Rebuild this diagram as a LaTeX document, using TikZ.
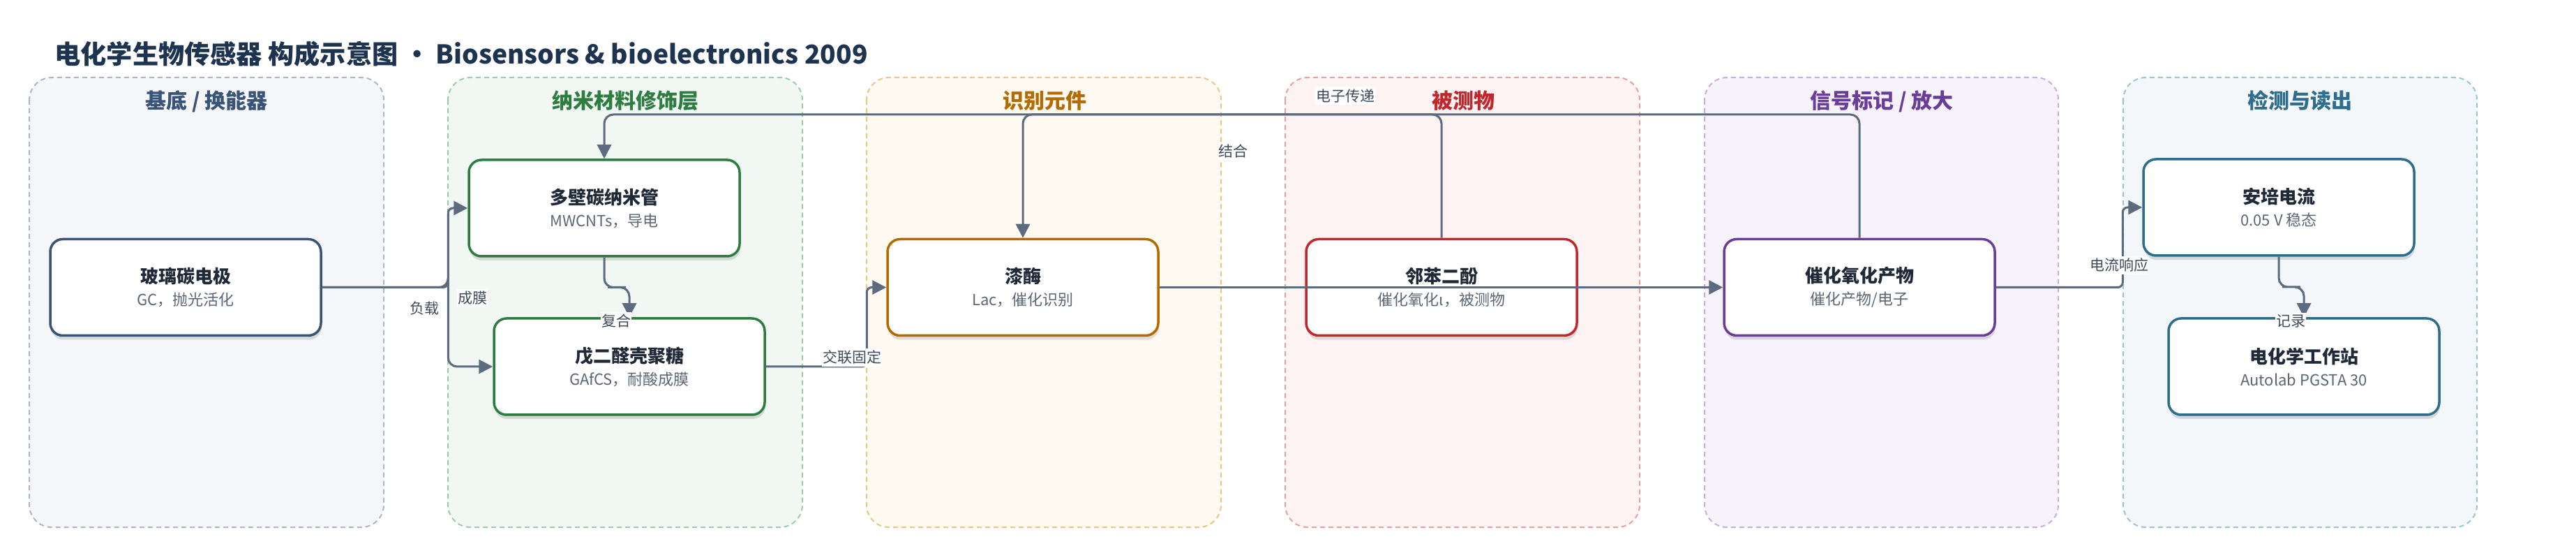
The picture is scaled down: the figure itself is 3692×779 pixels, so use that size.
\documentclass[tikz,border=0pt]{standalone}
\usepackage{fontspec}
\setmainfont{Noto Sans CJK SC}
\usepackage{xcolor}
\usepackage{tikz}
\usetikzlibrary{positioning,calc,shadows,arrows.meta}

\definecolor{headc}{HTML}{1E3350}
\definecolor{inkc}{HTML}{1F2937}
\definecolor{subc}{HTML}{5B6676}
\definecolor{edgec}{HTML}{5C6B80}
\definecolor{lblc}{HTML}{3E4A5A}
\definecolor{basebg}{HTML}{F4F6FA}
\definecolor{baseln}{HTML}{A9B7CA}
\definecolor{basetx}{HTML}{3A5478}
\definecolor{nanobg}{HTML}{F1F8F3}
\definecolor{nanoln}{HTML}{9DCCA8}
\definecolor{nanotx}{HTML}{2E7D40}
\definecolor{recogbg}{HTML}{FFFAF1}
\definecolor{recogln}{HTML}{F0C583}
\definecolor{recogtx}{HTML}{B36B00}
\definecolor{anabg}{HTML}{FDF3F3}
\definecolor{analn}{HTML}{E9A0A0}
\definecolor{anatx}{HTML}{C0282D}
\definecolor{sigbg}{HTML}{F7F3FC}
\definecolor{sigln}{HTML}{C6AEE2}
\definecolor{sigtx}{HTML}{6A3D9A}
\definecolor{readbg}{HTML}{F3F7F9}
\definecolor{readln}{HTML}{9EC4D2}
\definecolor{readtx}{HTML}{2E6D8C}

\newcommand{\subline}[1]{{\mdseries\fontsize{11}{13}\selectfont\color{subc}#1}}

\begin{document}
\begin{tikzpicture}[x=0.5pt, y=-0.5pt,
    panel/.style 2 args={fill=#1, draw=#2, line width=1pt, dash pattern=on 3.5pt off 2.5pt, rounded corners=16pt},
    ptitle/.style={anchor=base, font=\fontsize{15}{18}\selectfont\bfseries},
    box/.style={draw=#1, fill=white, line width=1.75pt, rounded corners=9pt, minimum width=194pt, minimum height=69pt,
        align=center, text=inkc, font=\fontsize{13}{16}\selectfont\bfseries,
        drop shadow={shadow xshift=0.5pt, shadow yshift=-3pt, opacity=0.12, fill=black}},
    edge/.style={draw=edgec, line width=1.5pt, rounded corners=6.5pt, -{Triangle[length=10pt,width=10pt]}},
    lbl/.style={fill=white, text=lblc, font=\fontsize{10.5}{12}\selectfont, inner xsep=0.5pt, inner ysep=1.5pt}]
    \useasboundingbox (0,0) rectangle (3692,779);

    \node[anchor=base west, inner sep=0pt, text=headc, font=\fontsize{18.6}{22}\selectfont\bfseries] (title) at (78,92)
        {电化学生物传感器 构成示意图 • Biosensors \& bioelectronics 2009};

    \draw[panel={basebg}{baseln}] (42,111) rectangle (550,755);
    \draw[panel={nanobg}{nanoln}] (642,111) rectangle (1150,755);
    \draw[panel={recogbg}{recogln}] (1242,111) rectangle (1750,755);
    \draw[panel={anabg}{analn}] (1842,111) rectangle (2350,755);
    \draw[panel={sigbg}{sigln}] (2443,111) rectangle (2950,755);
    \draw[panel={readbg}{readln}] (3043,111) rectangle (3550,755);

    \node[ptitle, text=basetx] (tbase) at (296,156) {基底 / 换能器};
    \node[ptitle, text=nanotx] (tnano) at (896,156) {纳米材料修饰层};
    \node[ptitle, text=recogtx] (trecog) at (1497,156) {识别元件};
    \node[ptitle, text=anatx] (tana) at (2097,156) {被测物};
    \node[ptitle, text=sigtx] (tsig) at (2697,156) {信号标记 / 放大};
    \node[ptitle, text=readtx] (tread) at (3296,156) {检测与读出};

    \node[box=basetx] (gc) at (266,411.5) {玻璃碳电极\\\subline{GC，抛光活化}};
    \node[box=nanotx] (cnt) at (866,298) {多壁碳纳米管\\\subline{MWCNTs，导电}};
    \node[box=nanotx] (gafcs) at (902,525) {戊二醛壳聚糖\\\subline{GAfCS，耐酸成膜}};
    \node[box=recogtx] (lac) at (1466,411.5) {漆酶\\\subline{Lac，催化识别}};
    \node[box=anatx] (cat) at (2066,411.5) {邻苯二酚\\\subline{催化氧化ι，被测物}};
    \node[box=sigtx] (prod) at (2665,411.5) {催化氧化产物\\\subline{催化产物/电子}};
    \node[box=readtx] (amp) at (3266,297) {安培电流\\\subline{0.05 V 稳态}};
    \node[box=readtx] (station) at (3302,525) {电化学工作站\\\subline{Autolab PGSTA 30}};

    \coordinate (bus) at (0,164);

    \draw[edge, rounded corners=3.5pt] (gc.east) -| ([xshift=-14pt]cnt.west) -- (cnt.west);
    \draw[edge] (gc.east) -| ([xshift=-14pt]cnt.west) |- (gafcs.west);
    \draw[edge] (cnt.south) |- ($(cnt.south)!.5!(gafcs.north)$) -| (gafcs.north);
    \draw[edge, rounded corners=3.5pt] (gafcs.east) -| ([xshift=-14pt]lac.west) -- (lac.west);
    \draw[edge] (lac.east) -- (prod.west);
    \draw[edge] (cat.north) |- (lac.north |- bus) -- (lac.north);
    \draw[edge] (prod.north) |- (cnt.north |- bus) -- (cnt.north);
    \draw[edge, rounded corners=3.5pt] (prod.east) -| ([xshift=-14pt]amp.west) -- (amp.west);
    \draw[edge] (amp.south) |- ($(amp.south)!.5!(station.north)$) -| (station.north);

    \node[lbl] (load) at (608,442) {负载};
    \node[lbl] (film) at (677,427) {成膜};
    \node[lbl] (compound) at (883,459.5) {复合};
    \node[lbl] (crosslink) at (1221,512) {交联固定};
    \node[lbl] (bind) at (1767,216.5) {结合};
    \node[lbl] (transfer) at (1928,137) {电子传递};
    \node[lbl] (response) at (3037,380) {电流响应};
    \node[lbl] (record) at (3283,460) {记录};
\end{tikzpicture}
\end{document}
